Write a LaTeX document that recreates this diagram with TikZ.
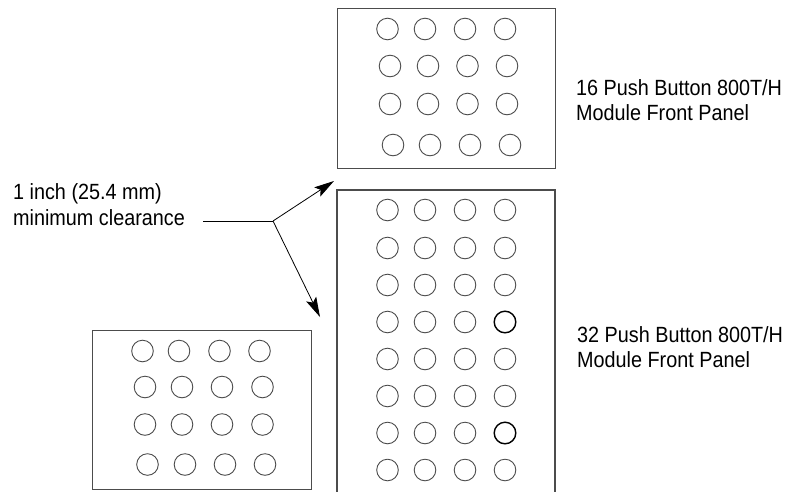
\documentclass[tikz,border=0pt]{standalone}
\usepackage{fontspec}
\setmainfont{Liberation Sans}[FakeStretch=0.9]
\usetikzlibrary{arrows.meta}
\begin{document}
\begin{tikzpicture}[x=1pt,y=-1pt,
  panel/.style={draw=black!70,line width=1.1pt},
  btn/.style={draw=black!70,line width=0.9pt},
  btnbold/.style={draw=black,line width=1.4pt},
  lbl/.style={anchor=base west,inner sep=0pt,font=\fontsize{22}{26}\selectfont},
  leader/.style={draw=black,line width=0.8pt},
  tip/.style={-{Stealth[length=20pt,width=11pt,inset=4pt]}}
]
\useasboundingbox (0,0) rectangle (790,491);
% panels
\node[panel,minimum width=218pt,minimum height=160pt,inner sep=0pt,anchor=north west] (top) at (337,8) {};
\node[panel,minimum width=219pt,minimum height=159pt,inner sep=0pt,anchor=north west] (left) at (92,330) {};
\coordinate (bl) at (337,495);
\coordinate (br) at (555,495);
\draw[panel] (bl) -- (337,190) -- (555,190) -- (br);
% top panel buttons
\foreach \x in {387.5,425,465,505} \draw[btn] (\x,29) circle[radius=10.8pt];
\foreach \x in {390,428,467.5,507} {\draw[btn] (\x,66) circle[radius=10.8pt]; \draw[btn] (\x,104) circle[radius=10.8pt];}
\foreach \x in {393,430,470,510} \draw[btn] (\x,145) circle[radius=10.8pt];
% tall panel buttons
\foreach \y in {210,248,285,322,359,396,433,470}
  \foreach \x in {387.5,425,465} \draw[btn] (\x,\y) circle[radius=10.8pt];
\foreach \y in {210,248,285,359,396,470} \draw[btn] (505,\y) circle[radius=10.8pt];
\draw[btnbold] (505,322) circle[radius=10.8pt];
\draw[btnbold] (505,433) circle[radius=10.8pt];
% left panel buttons
\foreach \x in {142.5,179,219.5,259.5} \draw[btn] (\x,351) circle[radius=10.8pt];
\foreach \x in {145,182,222,262.5} {\draw[btn] (\x,387) circle[radius=10.8pt]; \draw[btn] (\x,424.5) circle[radius=10.8pt];}
\foreach \x in {147.5,185,225,265} \draw[btn] (\x,464.5) circle[radius=10.8pt];
% labels
\node[lbl] (c1) at (13,199) {1 inch (25.4 mm)};
\node[lbl] (c2) at (13,225) {minimum clearance};
\node[lbl] (t1) at (576,95) {16 Push Button 800T/H};
\node[lbl] (t2) at (576,120) {Module Front Panel};
\node[lbl] (b1) at (577,342) {32 Push Button 800T/H};
\node[lbl] (b2) at (577,367) {Module Front Panel};
% leader
\coordinate (ls) at (203,221);
\coordinate (j) at (273,221);
\coordinate (up) at (334,181);
\coordinate (dn) at (320,317);
\draw[leader] (ls) -- (j);
\draw[leader,tip] (j) -- (up);
\draw[leader,tip] (j) -- (dn);
\end{tikzpicture}
\end{document}
